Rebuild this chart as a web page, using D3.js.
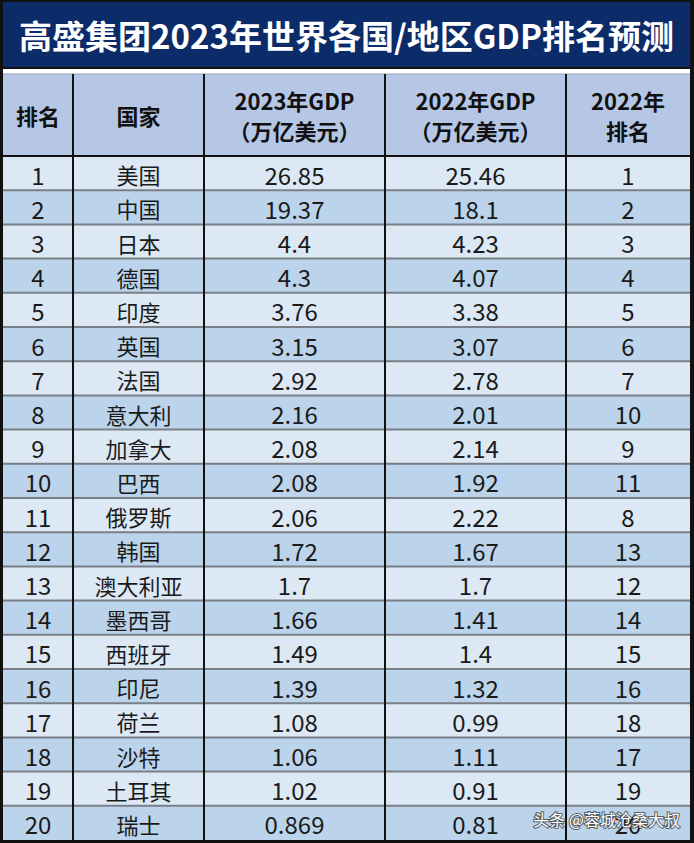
<!DOCTYPE html>
<html>
<head>
<meta charset="utf-8">
<script src="https://cdn.jsdelivr.net/npm/d3@7"></script>
<style>
  body { margin: 0; background: #fff; }
  svg { display: block; }
</style>
</head>
<body>
<div id="chart"></div>
<script>
// table data
var title = "高盛集团2023年世界各国/地区GDP排名预测";
var headers = [["排名"], ["国家"], ["2023年GDP", "（万亿美元）"], ["2022年GDP", "（万亿美元）"], ["2022年", "排名"]];
var ranks = [1, 2, 3, 4, 5, 6, 7, 8, 9, 10, 11, 12, 13, 14, 15, 16, 17, 18, 19, 20];
var countries = ["美国", "中国", "日本", "德国", "印度", "英国", "法国", "意大利", "加拿大", "巴西",
    "俄罗斯", "韩国", "澳大利亚", "墨西哥", "西班牙", "印尼", "荷兰", "沙特", "土耳其", "瑞士"];
var gdp2023 = [26.85, 19.37, 4.4, 4.3, 3.76, 3.15, 2.92, 2.16, 2.08, 2.08,
    2.06, 1.72, 1.7, 1.66, 1.49, 1.39, 1.08, 1.06, 1.02, 0.869];
var gdp2022 = [25.46, 18.1, 4.23, 4.07, 3.38, 3.07, 2.78, 2.01, 2.14, 1.92,
    2.22, 1.67, 1.7, 1.41, 1.4, 1.32, 0.99, 1.11, 0.91, 0.81];
var rank2022 = [1, 2, 3, 4, 5, 6, 7, 10, 9, 11, 8, 13, 12, 14, 15, 16, 18, 17, 19, 20];
var watermark = "头条 @蓉城沧桑大叔";

// layout
var W = 694, H = 843;
var colWidths = [70, 131, 181, 181, 124];
var left = 3, titleH = 67, headTop = 74, bodyTop = 156, bodyBottom = 840;
var font = "'Microsoft YaHei', 'Noto Sans CJK SC', sans-serif";

var svg = d3.select("#chart")
    .append("svg")
    .attr("width", W)
    .attr("height", H);

// column scale
var cols = d3.range(colWidths.length);
var edges = [left];
colWidths.forEach(function (w, i) { edges.push(edges[i] + w); });
var x = d3.scaleOrdinal().domain(cols).range(edges.slice(0, -1));
var colW = function (i) { return colWidths[i]; };
var right = edges[edges.length - 1];

// row scale
var y = d3.scaleBand()
    .domain(ranks)
    .range([bodyTop, bodyBottom]);

// frame + title band
svg.append("rect").attr("width", W).attr("height", H).attr("fill", "#111");
svg.append("rect")
    .attr("x", left).attr("y", 2)
    .attr("width", right - left).attr("height", titleH - 2)
    .attr("fill", "#0c2c69");
svg.append("rect")
    .attr("x", left).attr("y", titleH + 2)
    .attr("width", right - left).attr("height", headTop - titleH - 2)
    .attr("fill", "#ffffff");

svg.append("text")
    .attr("x", (left + right) / 2)
    .attr("y", 35)
    .attr("text-anchor", "middle")
    .attr("dominant-baseline", "central")
    .style("font-family", font)
    .style("font-weight", "bold")
    .style("font-size", "33px")
    .style("fill", "#ffffff")
    .text(title);

// header
svg.append("rect")
    .attr("x", left).attr("y", headTop)
    .attr("width", right - left).attr("height", bodyTop - headTop)
    .attr("fill", "#b6c7e6");

var head = svg.append("g");
headers.forEach(function (lines, i) {
    var cx = x(i) + colW(i) / 2;
    var cy = (headTop + bodyTop) / 2;
    lines.forEach(function (s, j) {
        head.append("text")
            .attr("x", cx)
            .attr("y", cy + (j - (lines.length - 1) / 2) * 30)
            .attr("text-anchor", "middle")
            .attr("dominant-baseline", "central")
            .style("font-family", font)
            .style("font-weight", "bold")
            .style("font-size", "22px")
            .style("fill", "#111")
            .text(s);
    });
});

// body rows
var rows = ranks.map(function (r, i) {
    return [r, countries[i], gdp2023[i], gdp2022[i], rank2022[i]];
});

var row = svg.append("g")
    .selectAll("g")
    .data(rows)
    .enter()
    .append("g");

row.append("rect")
    .attr("x", left)
    .attr("y", function (d) { return y(d[0]); })
    .attr("width", right - left)
    .attr("height", y.bandwidth())
    .attr("fill", function (d) { return d[0] % 2 ? "#dce9f5" : "#bcd4eb"; });

row.selectAll("text")
    .data(function (d) { return d.map(function (v, i) { return { r: d[0], v: v, i: i }; }); })
    .enter()
    .append("text")
    .attr("x", function (d) { return x(d.i) + colW(d.i) / 2; })
    .attr("y", function (d) { return y(d.r) + y.bandwidth() / 2 + 1; })
    .attr("text-anchor", "middle")
    .attr("dominant-baseline", "central")
    .style("font-family", font)
    .style("font-size", function (d) { return d.i === 1 ? "22px" : "24px"; })
    .style("fill", "#1a1a1a")
    .text(function (d) { return String(d.v); });

// horizontal separators
svg.append("g")
    .selectAll("line")
    .data(ranks.slice(1))
    .enter()
    .append("line")
    .attr("x1", left).attr("x2", right)
    .attr("y1", function (d) { return y(d); })
    .attr("y2", function (d) { return y(d); })
    .attr("stroke", "#7a7f86")
    .attr("stroke-width", 2);

svg.append("line")
    .attr("x1", left).attr("x2", right)
    .attr("y1", bodyTop).attr("y2", bodyTop)
    .attr("stroke", "#111").attr("stroke-width", 2);
svg.append("line")
    .attr("x1", left).attr("x2", right)
    .attr("y1", headTop).attr("y2", headTop)
    .attr("stroke", "#9aa4b4").attr("stroke-width", 1);

// vertical lines
svg.append("g")
    .selectAll("line")
    .data(cols.slice(1))
    .enter()
    .append("line")
    .attr("x1", function (d) { return x(d); })
    .attr("x2", function (d) { return x(d); })
    .attr("y1", headTop).attr("y2", bodyBottom)
    .attr("stroke", "#111")
    .attr("stroke-width", 2);

// watermark
svg.append("text")
    .attr("x", 680)
    .attr("y", y(20) + y.bandwidth() / 2 - 4)
    .attr("text-anchor", "end")
    .attr("dominant-baseline", "central")
    .style("font-family", font)
    .style("font-size", "16px")
    .style("fill", "#ffffff")
    .style("paint-order", "stroke")
    .style("stroke", "rgba(40,40,40,0.7)")
    .style("stroke-width", "2px")
    .text(watermark);
</script>
</body>
</html>
